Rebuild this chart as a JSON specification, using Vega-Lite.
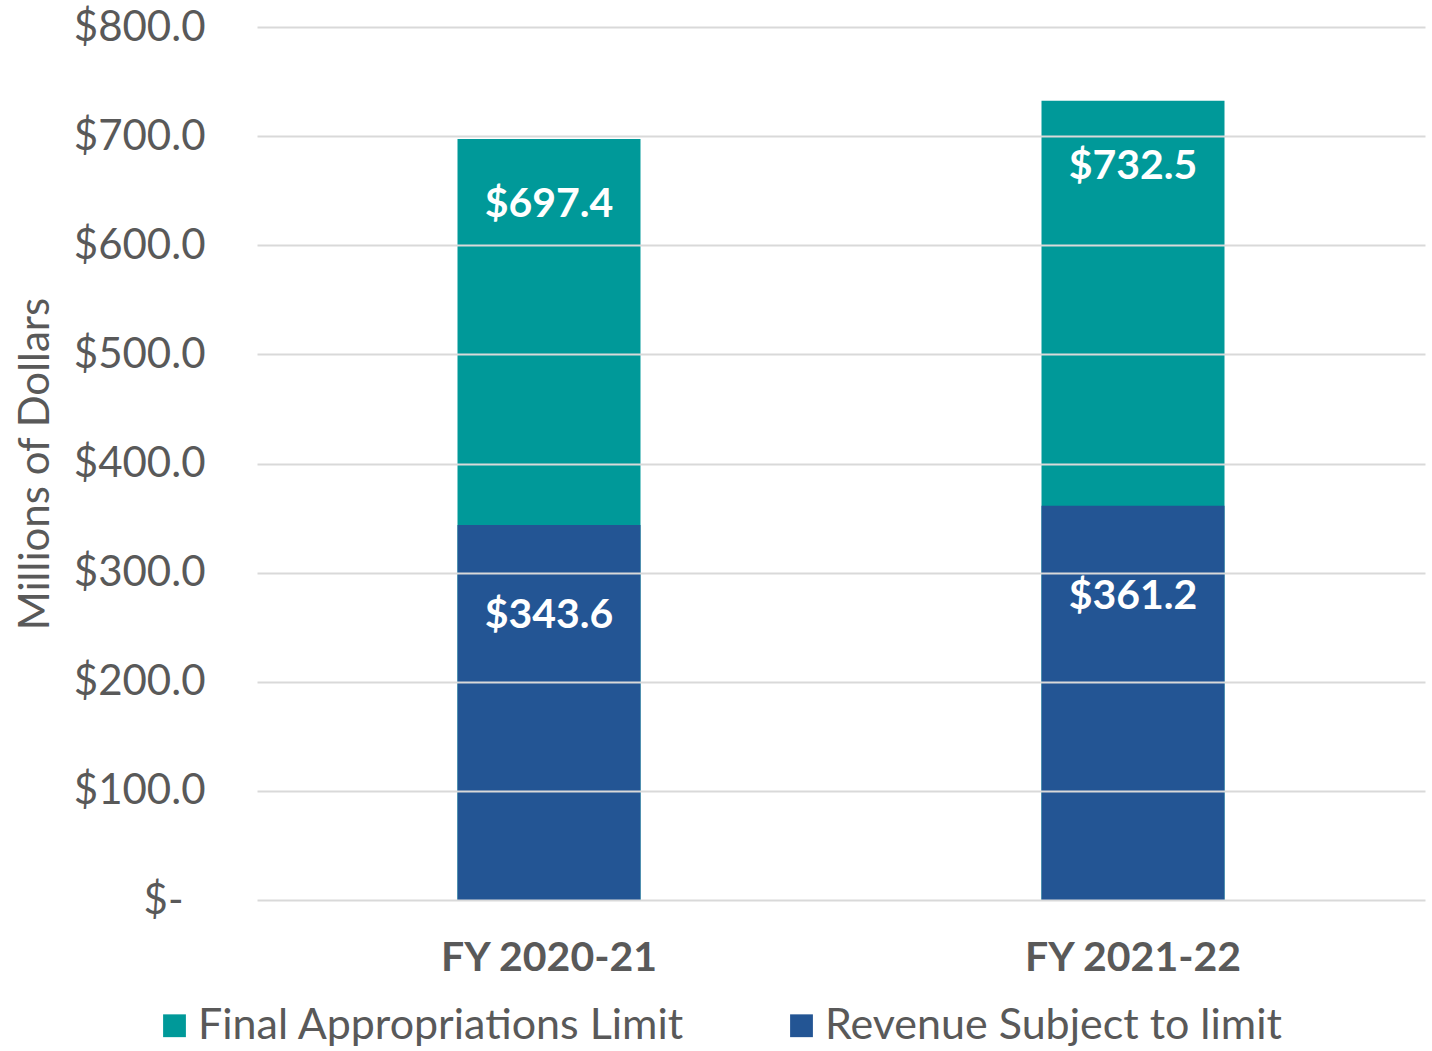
{
  "$schema": "https://vega.github.io/schema/vega-lite/v6.json",
  "width": 1168,
  "height": 873,
  "autosize": {"type": "none"},
  "padding": {"left": 257, "top": 27, "right": 7, "bottom": 151},
  "background": "white",
  "config": {"font": "Lato", "view": {"stroke": null}},
  "data": {
    "values": [
      {"year": "FY 2020-21", "series": "Final Appropriations Limit", "value": 697.4},
      {"year": "FY 2021-22", "series": "Final Appropriations Limit", "value": 732.5},
      {"year": "FY 2020-21", "series": "Revenue Subject to limit", "value": 343.6},
      {"year": "FY 2021-22", "series": "Revenue Subject to limit", "value": 361.2}
    ]
  },
  "encoding": {
    "x": {
      "field": "year", "type": "nominal", "sort": null,
      "scale": {"paddingInner": 0, "paddingOuter": 0},
      "axis": {
        "title": null, "labelAngle": 0, "domain": false, "ticks": false,
        "labelFont": "Lato", "labelFontWeight": "bold", "labelFontSize": 41,
        "labelColor": "#595959", "labelPadding": 38, "labelLimit": 0
      }
    },
    "y": {
      "field": "value", "type": "quantitative", "stack": null,
      "scale": {"domain": [0, 800], "nice": false},
      "axis": {
        "title": "Millions of Dollars", "titleFont": "Lato", "titleFontSize": 42,
        "titleFontWeight": "normal", "titleColor": "#595959", "titlePadding": 16,
        "values": [0, 100, 200, 300, 400, 500, 600, 700, 800],
        "labelExpr": "datum.value == 0 ? '$-' : '$' + format(datum.value, '.1f')",
        "labelFontSize": 42, "labelColor": "#595959",
        "labelPadding": {"condition": {"test": "datum.value == 0", "value": 74}, "value": 52},
        "domain": false, "ticks": false,
        "gridColor": "#d9d9d9", "gridWidth": 2, "zindex": 1
      }
    }
  },
  "layer": [
    {
      "mark": {"type": "bar", "size": 183},
      "encoding": {
        "color": {
          "field": "series", "type": "nominal",
          "scale": {
            "domain": ["Final Appropriations Limit", "Revenue Subject to limit"],
            "range": ["#009999", "#235594"]
          },
          "legend": {
            "title": null, "orient": "none", "direction": "horizontal",
            "legendX": -104, "legendY": 977,
            "symbolType": "square", "symbolSize": 520, "symbolStrokeWidth": 0,
            "labelFontSize": 43, "labelColor": "#595959", "labelLimit": 0,
            "labelOffset": 2, "columnPadding": 95
          }
        }
      }
    },
    {
      "transform": [{"filter": "datum.series == 'Final Appropriations Limit'"}],
      "mark": {"type": "text", "color": "white", "fontWeight": "bold", "fontSize": 41, "baseline": "middle", "dy": 66},
      "encoding": {"text": {"field": "value", "type": "quantitative", "format": "$.1f"}}
    },
    {
      "transform": [{"filter": "datum.series == 'Revenue Subject to limit'"}],
      "mark": {"type": "text", "color": "white", "fontWeight": "bold", "fontSize": 41, "baseline": "middle", "dy": 91},
      "encoding": {"text": {"field": "value", "type": "quantitative", "format": "$.1f"}}
    }
  ]
}
